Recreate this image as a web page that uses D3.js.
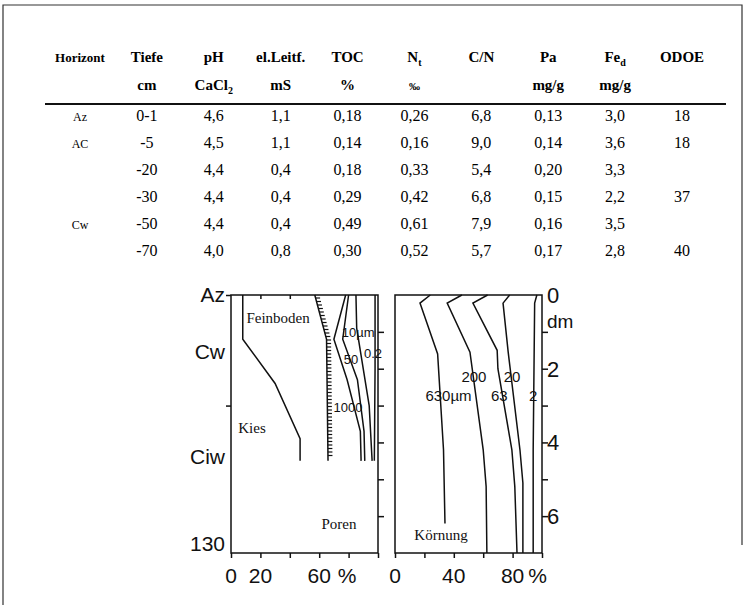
<!DOCTYPE html>
<html><head><meta charset="utf-8">
<script src="https://cdn.jsdelivr.net/npm/d3@7"></script>
<style>body{margin:0;background:#fff}svg{display:block}</style>
</head><body>
<svg id="c" width="749" height="610"></svg>
<script>
// ---------- table data ----------
const headerMain = ["Horizont","Tiefe","pH","el.Leitf.","TOC","N","C/N","Pa","Fe","ODOE"];
const headerSub  = ["","","","","","t","","","d",""];
const headerUnit = ["","cm","CaCl","mS","%","‰","","mg/g","mg/g",""];
const headerUnitSub = ["","","2","","","","","","",""];
const horizons = ["Az","AC","","","Cw",""];
const depths   = ["0-1","-5","-20","-30","-50","-70"];
const pH       = [4.6,4.5,4.4,4.4,4.4,4.0];
const leitf    = [1.1,1.1,0.4,0.4,0.4,0.8];
const toc      = [0.18,0.14,0.18,0.29,0.49,0.30];
const nt       = [0.26,0.16,0.33,0.42,0.61,0.52];
const cn       = [6.8,9.0,5.4,6.8,7.9,5.7];
const pa       = [0.13,0.14,0.20,0.15,0.16,0.17];
const fed      = [3.0,3.6,3.3,2.2,3.5,2.8];
const odoe     = [18,18,null,37,null,40];

// ---------- profile data: [percent, depth dm] ----------
const gravelLine = [[8,0],[8,1.2],[30,2.4],[47,3.9],[47,4.5]];
const poreLine   = [[57,0],[65,1.2],[66,4.5]];
const fine1000   = [[78,0],[70,1.2],[79,2.3],[88,3.7],[88.5,4.5]];
const fine50     = [[80,0],[76,1.2],[86,2.3],[90.5,3.7],[91,4.5]];
const fine10     = [[85,0],[85.5,0.9],[94,3.0],[96,4.5]];
const fine02     = [[98,0],[98,2],[97.5,4.5]];
const k630 = [[24,0],[17,0.22],[29,1.6],[33,4.2],[34,6.2]];
const k200 = [[45.5,0],[35.5,0.22],[51,1.55],[60,4.2],[62,5.2],[62.5,7]];
const k63  = [[63,0],[53,0.22],[69.5,1.5],[70,2],[79.5,4.2],[81.5,5.2],[83,7]];
const k20  = [[78,0],[73.5,0.22],[77,1.55],[85,4.2],[87,5.1],[87,7]];
const k2   = [[96.5,0],[95,0.22],[94,4.2],[94,7]];

const leftHorizonLabels = [["Az",0],["Cw",1.55],["Ciw",4.4],["130",6.75]];
const leftCurveLabels  = [["10µm",86.5,1.0],["50",81.6,1.74],["0.2",96.6,1.57],["1000",79.6,3.04]];
const leftTextLabels   = [["Feinboden",32,0.63],["Kies",14.3,3.6],["Poren",73.5,6.2]];
const rightCurveLabels = [["200",53.7,2.23],["20",79.6,2.23],["630µm",36.4,2.74],["63",71,2.74],["2",94,2.74]];
const rightTextLabels  = [["Körnung",31.3,6.5]];
const leftXTickLabels  = [[0,"0"],[20,"20"],[60,"60"],[79,"%"]];
const rightXTickLabels = [[0,"0"],[40,"40"],[80,"80"],[97,"%"]];
const depthTicks = [0,1,2,3,4,5,6];
const depthLabels = [[0,"0"],[2,"2"],[4,"4"],[6,"6"]];

const SERIF = "'Liberation Serif','Times New Roman',serif";
const SANS  = "'Liberation Sans',Arial,sans-serif";

const svg = d3.select("#c");

// frame
svg.append("path").attr("d","M3,605V5H742V545").attr("fill","none").attr("stroke","#333").attr("stroke-width",1.2);

// ---------- table ----------
const colX = d3.scalePoint().domain(d3.range(10)).range([80,682]);
const rowY = d3.scalePoint().domain(d3.range(6)).range([116,251]);
const f1 = v => d3.format(".1f")(v).replace(".",",");
const f2 = v => d3.format(".2f")(v).replace(".",",");
const columns = [horizons, depths, pH.map(f1), leitf.map(f1), toc.map(f2), nt.map(f2), cn.map(f1), pa.map(f2), fed.map(f1), odoe.map(v=>v==null?"":String(v))];

const h1 = svg.append("g").attr("font-family",SERIF).attr("font-weight","bold").attr("text-anchor","middle");
headerMain.forEach((t,i)=>{
  const tx = h1.append("text").attr("x",colX(i)).attr("y",62).attr("font-size", i===0?13:15);
  tx.append("tspan").text(t);
  if(headerSub[i]) tx.append("tspan").attr("font-size",10).attr("dy",4).text(headerSub[i]);
});
headerUnit.forEach((t,i)=>{
  if(!t) return;
  const tx = h1.append("text").attr("x",colX(i)).attr("y",90).attr("font-size", t==="‰"?11:15);
  tx.append("tspan").text(t);
  if(headerUnitSub[i]) tx.append("tspan").attr("font-size",10).attr("dy",4).text(headerUnitSub[i]);
});
svg.append("line").attr("x1",45).attr("x2",726).attr("y1",104).attr("y2",104).attr("stroke","#111").attr("stroke-width",2.2);

const tb = svg.append("g").attr("font-family",SERIF).attr("text-anchor","middle");
columns.forEach((col,i)=>{
  col.forEach((v,r)=>{
    tb.append("text").attr("x",colX(i)).attr("y",rowY(r)+5).attr("font-size", i===0?12:16).text(v);
  });
});

// ---------- profile ----------
const y  = d3.scaleLinear().domain([0,7]).range([295,553]);
const xL = d3.scaleLinear().domain([0,100]).range([231,378]);
const xR = d3.scaleLinear().domain([0,100]).range([395,542]);
const stroke = "#111";

function frame(x){
  svg.append("rect").attr("x",x.range()[0]).attr("y",y.range()[0])
    .attr("width",x.range()[1]-x.range()[0]).attr("height",y.range()[1]-y.range()[0])
    .attr("fill","none").attr("stroke",stroke).attr("stroke-width",1.5);
}
frame(xL); frame(xR);

function styleAxis(g){ g.select(".domain").remove(); g.selectAll("line").attr("stroke",stroke).attr("stroke-width",1.5); g.selectAll("text").remove(); }

// bottom ticks
svg.append("g").attr("transform",`translate(0,${y(7)})`).call(d3.axisBottom(xL).tickValues([0,20,40,60,80,100]).tickSize(5)).call(styleAxis);
svg.append("g").attr("transform",`translate(0,${y(7)})`).call(d3.axisBottom(xR).tickValues([0,20,40,60,80,100]).tickSize(5)).call(styleAxis);
// top ticks left panel
svg.append("g").attr("transform",`translate(0,${y(0)})`).call(d3.axisBottom(xL).tickValues([20,40]).tickSize(4)).call(styleAxis);
// left axis ticks
svg.append("g").attr("transform",`translate(${xL(0)},0)`).call(d3.axisLeft(y).tickValues([0,3]).tickSize(5)).call(styleAxis);
// between panels
svg.append("g").attr("transform",`translate(${xL(100)},0)`).call(d3.axisRight(y).tickValues(depthTicks.slice(1)).tickSize(6)).call(styleAxis);
// right axis
svg.append("g").attr("transform",`translate(${xR(100)},0)`).call(d3.axisRight(y).tickValues(depthTicks.slice(1)).tickSize(6)).call(styleAxis);

// x tick labels
const sans = svg.append("g").attr("font-family",SANS).attr("fill","#111");
leftXTickLabels.forEach(([v,t])=> sans.append("text").attr("x",xL(v)).attr("y",583).attr("text-anchor","middle").attr("font-size",21).text(t));
rightXTickLabels.forEach(([v,t])=> sans.append("text").attr("x",xR(v)).attr("y",583).attr("text-anchor","middle").attr("font-size",21).text(t));
// depth labels
depthLabels.forEach(([d,t])=> sans.append("text").attr("x",xR(100)+5).attr("y",y(d)+8).attr("font-size",22).text(t));
sans.append("text").attr("x",xR(100)+5).attr("y",y(0.72)+6).attr("font-size",19).text("dm");
// horizon labels
leftHorizonLabels.forEach(([t,d])=> sans.append("text").attr("x",xL(0)-6).attr("y",y(d)+7).attr("text-anchor","end").attr("font-size",21).text(t));

// curves
const lineL = d3.line().x(d=>xL(d[0])).y(d=>y(d[1]));
const lineR = d3.line().x(d=>xR(d[0])).y(d=>y(d[1]));
[gravelLine,poreLine,fine1000,fine50,fine10,fine02].forEach(c=>
  svg.append("path").attr("d",lineL(c)).attr("fill","none").attr("stroke",stroke).attr("stroke-width",1.5));
[k630,k200,k63,k20,k2].forEach(c=>
  svg.append("path").attr("d",lineR(c)).attr("fill","none").attr("stroke",stroke).attr("stroke-width",1.5));

// hatch on pore line
function interpX(pts, d){
  for(let i=0;i<pts.length-1;i++){
    const a=pts[i], b=pts[i+1];
    if(d>=a[1] && d<=b[1]) return a[0] + (b[0]-a[0])*((d-a[1])/(b[1]-a[1]||1));
  }
  return pts[pts.length-1][0];
}
const hatch = svg.append("g").attr("stroke",stroke).attr("stroke-width",1.2);
for(let py=y(0)+3; py<=y(poreLine[poreLine.length-1][1])-2; py+=3.5){
  const px = xL(interpX(poreLine, y.invert(py)));
  hatch.append("line").attr("x1",px).attr("x2",px+4.5).attr("y1",py).attr("y2",py);
}

// curve labels
leftCurveLabels.forEach(([t,p,d])=> sans.append("text").attr("x",xL(p)).attr("y",y(d)+5).attr("text-anchor","middle").attr("font-size",13).text(t));
rightCurveLabels.forEach(([t,p,d])=> sans.append("text").attr("x",xR(p)).attr("y",y(d)+5).attr("text-anchor","middle").attr("font-size",15).text(t));
const serif = svg.append("g").attr("font-family",SERIF).attr("fill","#111");
leftTextLabels.forEach(([t,p,d])=> serif.append("text").attr("x",xL(p)).attr("y",y(d)+5).attr("text-anchor","middle").attr("font-size",15).text(t));
rightTextLabels.forEach(([t,p,d])=> serif.append("text").attr("x",xR(p)).attr("y",y(d)+5).attr("text-anchor","middle").attr("font-size",15).text(t));
</script>
</body></html>
